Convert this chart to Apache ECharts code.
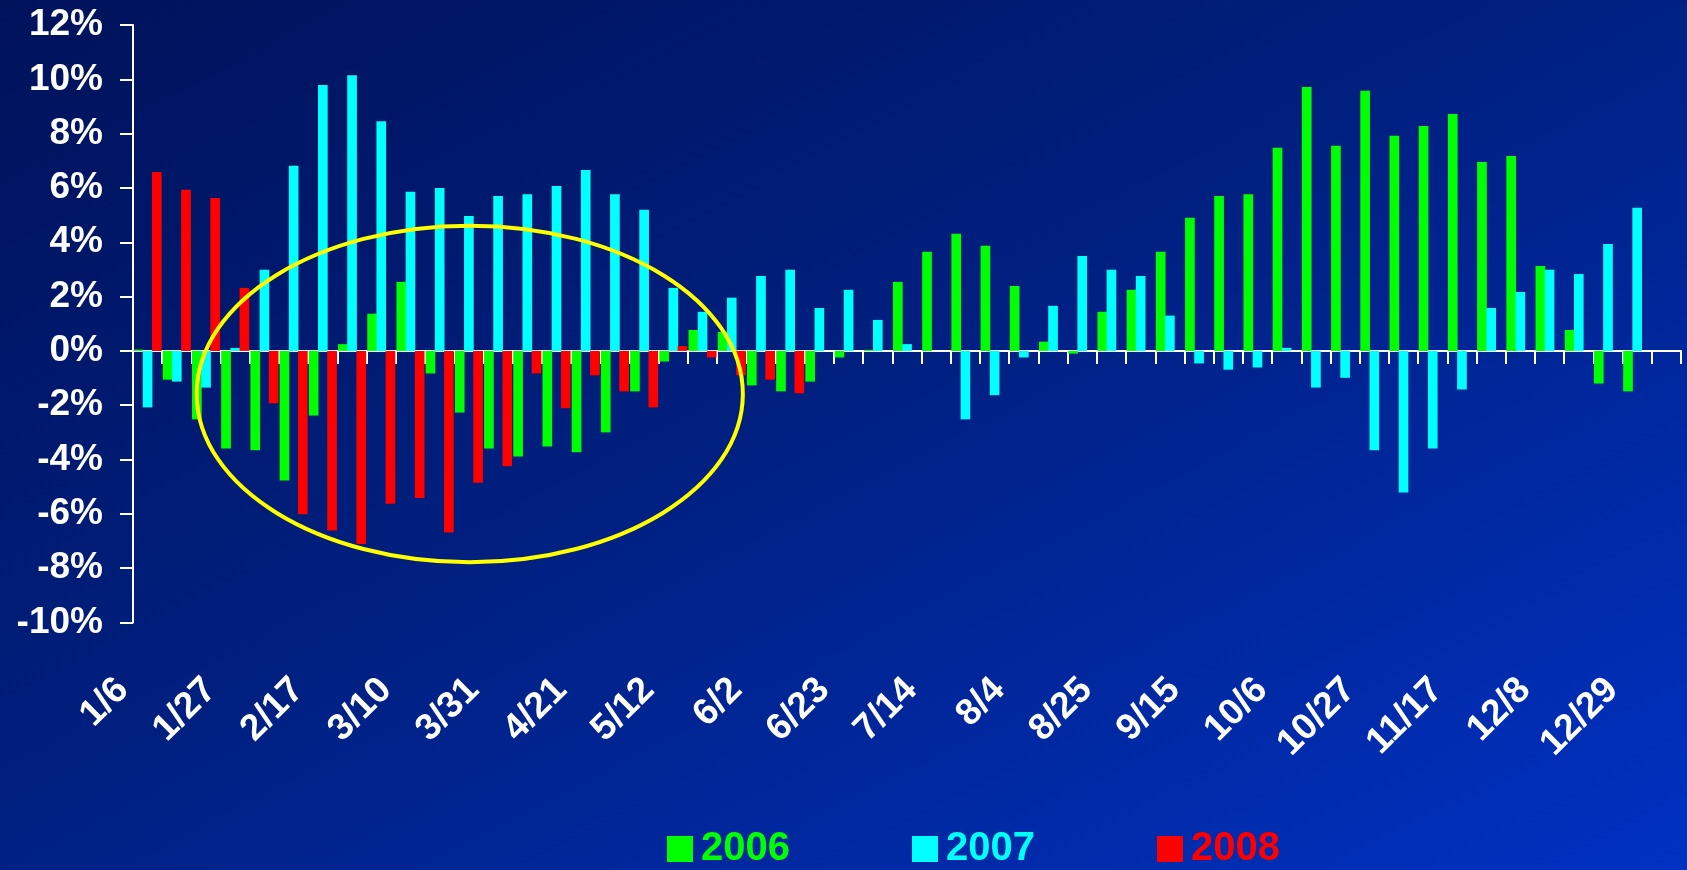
<!DOCTYPE html>
<html>
<head>
<meta charset="utf-8">
<title>Weekly change by year</title>
<script src="https://cdn.jsdelivr.net/npm/echarts@6/dist/echarts.min.js"></script>
<style>
  html, body { margin: 0; padding: 0; width: 1687px; height: 870px; overflow: hidden; }
  body { background: linear-gradient(to bottom right, #00125a 0%, #001f7e 45%, #0031c2 100%); }
  #chart { width: 1687px; height: 870px; }
</style>
</head>
<body>
<div id="chart"></div>
<script>
// Week-ending dates (the final slot is an empty week that closes the axis)
const weeks = [
  '1/6','1/13','1/20','1/27','2/3','2/10','2/17','2/24','3/3','3/10','3/17','3/24','3/31',
  '4/7','4/14','4/21','4/28','5/5','5/12','5/19','5/26','6/2','6/9','6/16','6/23','6/30',
  '7/7','7/14','7/21','7/28','8/4','8/11','8/18','8/25','9/1','9/8','9/15','9/22','9/29',
  '10/6','10/13','10/20','10/27','11/3','11/10','11/17','11/24','12/1','12/8','12/15',
  '12/22','12/29','1/5'
];

// Weekly change, percent
const y2006 = [
  0.05, -1.06, -2.52, -3.59, -3.66, -4.77, -2.38, 0.25, 1.37, 2.54, -0.83, -2.27, -3.59,
  -3.89, -3.52, -3.73, -3.00, -1.49, -0.39, 0.77, 0.70, -1.27, -1.49, -1.13, -0.24, 0.04,
  2.54, 3.65, 4.31, 3.87, 2.39, 0.34, -0.10, 1.44, 2.25, 3.65, 4.90, 5.70, 5.77,
  7.48, 9.72, 7.55, 9.58, 7.92, 8.28, 8.72, 6.96, 7.18, 3.13, 0.77, -1.20, -1.49, null
];
const y2007 = [
  -2.08, -1.13, -1.35, 0.11, 2.99, 6.82, 9.79, 10.15, 8.46, 5.86, 6.00, 4.97, 5.70,
  5.77, 6.07, 6.66, 5.77, 5.20, 2.32, 1.44, 1.96, 2.76, 2.99, 1.58, 2.25, 1.14,
  0.25, 0, -2.52, -1.63, -0.24, 1.66, 3.49, 2.99, 2.76, 1.30, -0.46, -0.69, -0.61,
  0.11, -1.35, -0.99, -3.66, -5.21, -3.59, -1.42, 1.58, 2.17, 2.99, 2.83, 3.94, 5.27, null
];
const y2008 = [
  6.59, 5.93, 5.63, 2.32, -1.93, -6.01, -6.61, -7.11, -5.63, -5.42, -6.69, -4.85, -4.25,
  -0.83, -2.11, -0.90, -1.49, -2.08, 0.18, -0.24, -0.90, -1.06, -1.56
];

const seriesNames = ['2006', '2007', '2008'];
const seriesColors = ['#00ff00', '#00ffff', '#ff0000'];

// Highlighted stretch of early-year weeks (category index range and value range)
const highlight = { fromIndex: 1.68, toIndex: 20.38, top: 4.61, bottom: -7.78 };

const FONT = '"Liberation Sans", Arial, sans-serif';
const chart = echarts.init(document.getElementById('chart'), null, { renderer: 'canvas' });

const yearData = [y2006, y2007, y2008];

chart.setOption({
  backgroundColor: 'transparent',
  animation: false,
  grid: { left: 133, right: 6, top: 25, bottom: 247.5, containLabel: false },
  legend: {
    left: 662,
    top: 824,
    itemWidth: 26,
    itemHeight: 26,
    itemGap: 122,
    icon: 'rect',
    selectedMode: false,
    data: seriesNames.map((n, i) => ({
      name: n,
      textStyle: { color: seriesColors[i], fontSize: 40, fontWeight: 'bold', fontFamily: FONT, padding: [0, 0, 0, 3] }
    }))
  },
  xAxis: [
    {
      type: 'category',
      data: weeks,
      position: 'bottom',
      axisLine: { onZero: true, lineStyle: { color: '#ffffff', width: 2 } },
      axisTick: { show: true, interval: 0, length: 13, lineStyle: { color: '#ffffff', width: 2 } },
      axisLabel: { show: false },
      splitLine: { show: false }
    },
    {
      type: 'category',
      data: weeks,
      position: 'bottom',
      axisLine: { show: false, onZero: false },
      axisTick: { show: false },
      splitLine: { show: false },
      axisLabel: {
        interval: 2,
        rotate: 45,
        color: '#ffffff',
        fontSize: 37,
        fontWeight: 'bold',
        fontFamily: FONT,
        margin: 37,
        padding: [0, 35, 0, 0]
      }
    }
  ],
  yAxis: {
    type: 'value',
    min: -10,
    max: 12,
    interval: 2,
    axisLine: { show: true, lineStyle: { color: '#ffffff', width: 2 } },
    axisTick: { show: true, length: 13, lineStyle: { color: '#ffffff', width: 2 } },
    splitLine: { show: false },
    axisLabel: {
      formatter: '{value}%',
      color: '#ffffff',
      fontSize: 37,
      fontWeight: 'bold',
      fontFamily: FONT,
      margin: 30
    }
  },
  series: seriesNames.map((n, i) => ({
    name: n,
    type: 'bar',
    xAxisIndex: 0,
    data: yearData[i],
    barGap: '-5%',
    barCategoryGap: '4%',
    itemStyle: { color: seriesColors[i] }
  }))
});

// Yellow ring around the highlighted weeks, placed through the axes
function drawHighlight() {
  const p0 = chart.convertToPixel({ xAxisIndex: 0, yAxisIndex: 0 }, [0, 0]);
  const p1 = chart.convertToPixel({ xAxisIndex: 0, yAxisIndex: 0 }, [1, 0]);
  const step = p1[0] - p0[0];
  const xl = p0[0] + step * highlight.fromIndex;
  const xr = p0[0] + step * highlight.toIndex;
  const yt = chart.convertToPixel({ yAxisIndex: 0 }, highlight.top);
  const yb = chart.convertToPixel({ yAxisIndex: 0 }, highlight.bottom);
  chart.setOption({
    graphic: [{
      type: 'ellipse',
      z: 100,
      silent: true,
      shape: { cx: (xl + xr) / 2, cy: (yt + yb) / 2, rx: (xr - xl) / 2, ry: (yb - yt) / 2 },
      style: { fill: 'none', stroke: '#ffff00', lineWidth: 4 }
    }]
  });
}
drawHighlight();
</script>
</body>
</html>
